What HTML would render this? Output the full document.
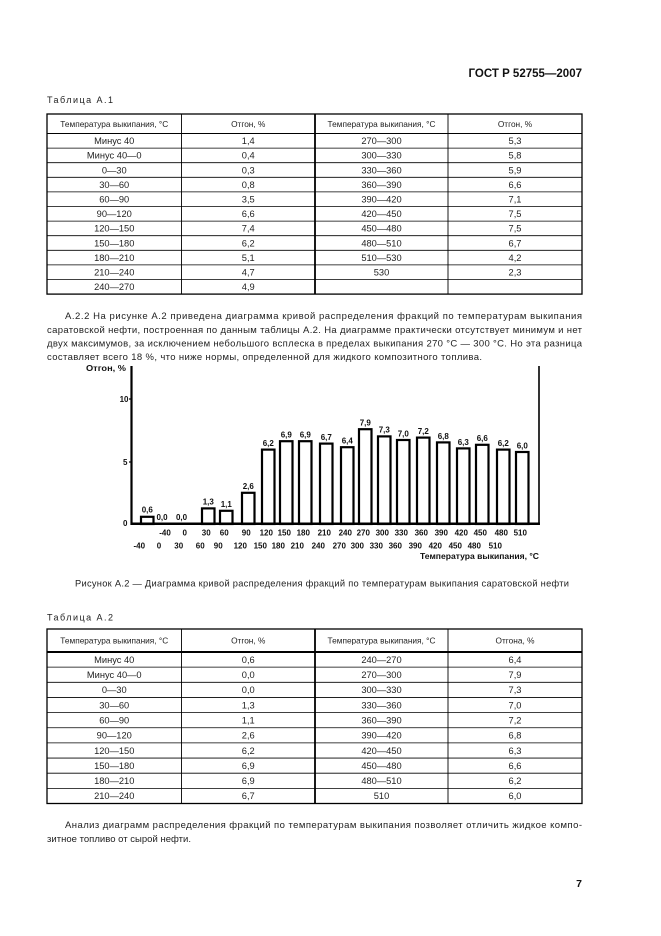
<!DOCTYPE html>
<html><head><meta charset="utf-8"><style>
html,body{margin:0;padding:0;background:#fff;}
svg{display:block;}
</style></head><body>
<svg width="661" height="936" viewBox="0 0 661 936" xmlns="http://www.w3.org/2000/svg" font-family="'Liberation Sans', Arial, sans-serif">
<rect width="661" height="936" fill="#fff"/>
<!-- Header -->
<text x="582" y="77" font-size="11.5" font-weight="bold" text-anchor="end" fill="#111">ГОСТ Р 52755—2007</text>
<text x="47" y="103" font-size="9" fill="#222" textLength="66" lengthAdjust="spacing">Таблица А.1</text>

<!-- Table A.1 -->
<g stroke="#000" fill="none">
<rect x="47" y="114" width="535" height="180.1" stroke-width="1.3"/>
<line x1="47" y1="133.5" x2="582" y2="133.5" stroke-width="1"/>
<g stroke-width="0.8">
<line x1="47" y1="148.1" x2="582" y2="148.1"/><line x1="47" y1="162.7" x2="582" y2="162.7"/>
<line x1="47" y1="177.3" x2="582" y2="177.3"/><line x1="47" y1="191.9" x2="582" y2="191.9"/>
<line x1="47" y1="206.5" x2="582" y2="206.5"/><line x1="47" y1="221.1" x2="582" y2="221.1"/>
<line x1="47" y1="235.7" x2="582" y2="235.7"/><line x1="47" y1="250.3" x2="582" y2="250.3"/>
<line x1="47" y1="264.9" x2="582" y2="264.9"/><line x1="47" y1="279.5" x2="582" y2="279.5"/>
</g>
<line x1="181.5" y1="114" x2="181.5" y2="294.1" stroke-width="0.9"/>
<line x1="315" y1="114" x2="315" y2="294.1" stroke-width="1.8"/>
<line x1="448" y1="114" x2="448" y2="294.1" stroke-width="0.9"/>
</g>
<g font-size="8.3" fill="#222" text-anchor="middle">
<text x="114.25" y="126.8">Температура выкипания, °С</text>
<text x="248.25" y="126.8">Отгон, %</text>
<text x="381.5" y="126.8">Температура выкипания, °С</text>
<text x="515" y="126.8">Отгон, %</text>
</g>
<g font-size="9.3" fill="#222" text-anchor="middle">
<text x="114.25" y="144.1">Минус 40</text><text x="248.25" y="144.1">1,4</text><text x="381.5" y="144.1">270—300</text><text x="515" y="144.1">5,3</text>
<text x="114.25" y="158.7">Минус 40—0</text><text x="248.25" y="158.7">0,4</text><text x="381.5" y="158.7">300—330</text><text x="515" y="158.7">5,8</text>
<text x="114.25" y="173.3">0—30</text><text x="248.25" y="173.3">0,3</text><text x="381.5" y="173.3">330—360</text><text x="515" y="173.3">5,9</text>
<text x="114.25" y="187.9">30—60</text><text x="248.25" y="187.9">0,8</text><text x="381.5" y="187.9">360—390</text><text x="515" y="187.9">6,6</text>
<text x="114.25" y="202.5">60—90</text><text x="248.25" y="202.5">3,5</text><text x="381.5" y="202.5">390—420</text><text x="515" y="202.5">7,1</text>
<text x="114.25" y="217.1">90—120</text><text x="248.25" y="217.1">6,6</text><text x="381.5" y="217.1">420—450</text><text x="515" y="217.1">7,5</text>
<text x="114.25" y="231.7">120—150</text><text x="248.25" y="231.7">7,4</text><text x="381.5" y="231.7">450—480</text><text x="515" y="231.7">7,5</text>
<text x="114.25" y="246.3">150—180</text><text x="248.25" y="246.3">6,2</text><text x="381.5" y="246.3">480—510</text><text x="515" y="246.3">6,7</text>
<text x="114.25" y="260.9">180—210</text><text x="248.25" y="260.9">5,1</text><text x="381.5" y="260.9">510—530</text><text x="515" y="260.9">4,2</text>
<text x="114.25" y="275.5">210—240</text><text x="248.25" y="275.5">4,7</text><text x="381.5" y="275.5">530</text><text x="515" y="275.5">2,3</text>
<text x="114.25" y="290.1">240—270</text><text x="248.25" y="290.1">4,9</text>
</g>

<!-- Paragraph A.2.2 -->
<g font-size="9.5" fill="#222">
<text x="65" y="319" textLength="517" lengthAdjust="spacing">А.2.2  На рисунке А.2 приведена диаграмма кривой распределения фракций по температурам выкипания</text>
<text x="47" y="333" textLength="535" lengthAdjust="spacing">саратовской нефти, построенная по данным таблицы А.2. На диаграмме практически отсутствует минимум и нет</text>
<text x="47" y="346.5" textLength="535" lengthAdjust="spacing">двух максимумов, за исключением небольшого всплеска в пределах выкипания 270 °С — 300 °С. Но эта разница</text>
<text x="47" y="360" textLength="435" lengthAdjust="spacing">составляет всего 18 %, что ниже нормы, определенной для жидкого композитного топлива.</text>
</g>

<!-- Chart -->
<g font-weight="bold" font-size="8" fill="#111">
<text x="86" y="371" textLength="40" lengthAdjust="spacingAndGlyphs">Отгон, %</text>
<text x="128.5" y="402" text-anchor="end">10</text>
<text x="127.5" y="465" text-anchor="end">5</text>
<text x="127.5" y="526" text-anchor="end">0</text>
</g>
<g stroke="#000">
<line x1="131.5" y1="366" x2="131.5" y2="525" stroke-width="2.2"/>
<line x1="539" y1="366" x2="539" y2="525" stroke-width="1.6"/>
<line x1="130.5" y1="523.8" x2="539.8" y2="523.8" stroke-width="2.5"/>
<line x1="129" y1="399" x2="131.5" y2="399" stroke-width="1.2"/>
<line x1="129" y1="462" x2="131.5" y2="462" stroke-width="1.2"/>
</g>
<g stroke="#000" stroke-width="2.2" fill="#fff">
<rect x="141" y="516.8" width="12.5" height="7.2"/>
<rect x="202" y="508.4" width="12.5" height="15.6"/>
<rect x="220" y="510.8" width="12.5" height="13.2"/>
<rect x="242" y="492.8" width="12.5" height="31.2"/>
<rect x="262" y="449.6" width="12.5" height="74.4"/>
<rect x="280" y="441.2" width="12.5" height="82.8"/>
<rect x="299" y="441.2" width="12.5" height="82.8"/>
<rect x="320" y="443.6" width="12.5" height="80.4"/>
<rect x="341" y="447.2" width="12.5" height="76.8"/>
<rect x="359" y="429.2" width="12.5" height="94.8"/>
<rect x="378" y="436.4" width="12.5" height="87.6"/>
<rect x="397" y="440" width="12.5" height="84"/>
<rect x="417" y="437.6" width="12.5" height="86.4"/>
<rect x="437" y="442.4" width="12.5" height="81.6"/>
<rect x="457" y="448.4" width="12.5" height="75.6"/>
<rect x="476" y="444.8" width="12.5" height="79.2"/>
<rect x="497" y="449.6" width="12.5" height="74.4"/>
<rect x="516" y="452" width="12.5" height="72"/>
</g>
<line x1="130.5" y1="523.8" x2="539.8" y2="523.8" stroke="#000" stroke-width="2.5"/>
<g font-weight="bold" font-size="8" fill="#111" text-anchor="middle">
<text x="147.25" y="512.5">0,6</text>
<text x="162" y="520">0,0</text>
<text x="181.5" y="520">0,0</text>
<text x="208.25" y="504.5">1,3</text>
<text x="226.25" y="507">1,1</text>
<text x="248.25" y="489">2,6</text>
<text x="268.25" y="446">6,2</text>
<text x="286.25" y="437.5">6,9</text>
<text x="305.25" y="437.5">6,9</text>
<text x="326.25" y="440">6,7</text>
<text x="347.25" y="443.5">6,4</text>
<text x="365.25" y="425.5">7,9</text>
<text x="384.25" y="432.5">7,3</text>
<text x="403.25" y="436.5">7,0</text>
<text x="423.25" y="434">7,2</text>
<text x="443.25" y="439">6,8</text>
<text x="463.25" y="445">6,3</text>
<text x="482.25" y="441">6,6</text>
<text x="503.25" y="446">6,2</text>
<text x="522.25" y="448.5">6,0</text>
</g>
<g font-weight="bold" font-size="8" fill="#111" text-anchor="middle">
<text x="165" y="535.5">-40</text><text x="184.75" y="535.5">0</text><text x="206.25" y="535.5">30</text><text x="224.25" y="535.5">60</text><text x="246.25" y="535.5">90</text><text x="266.25" y="535.5">120</text><text x="284.25" y="535.5">150</text><text x="303.25" y="535.5">180</text><text x="324.25" y="535.5">210</text><text x="345.25" y="535.5">240</text><text x="363.25" y="535.5">270</text><text x="382.25" y="535.5">300</text><text x="401.25" y="535.5">330</text><text x="421.25" y="535.5">360</text><text x="441.25" y="535.5">390</text><text x="461.25" y="535.5">420</text><text x="480.25" y="535.5">450</text><text x="501.25" y="535.5">480</text><text x="520.25" y="535.5">510</text>
<text x="139.25" y="548.5">-40</text><text x="159" y="548.5">0</text><text x="178.75" y="548.5">30</text><text x="200.25" y="548.5">60</text><text x="218.25" y="548.5">90</text><text x="240.25" y="548.5">120</text><text x="260.25" y="548.5">150</text><text x="278.25" y="548.5">180</text><text x="297.25" y="548.5">210</text><text x="318.25" y="548.5">240</text><text x="339.25" y="548.5">270</text><text x="357.25" y="548.5">300</text><text x="376.25" y="548.5">330</text><text x="395.25" y="548.5">360</text><text x="415.25" y="548.5">390</text><text x="435.25" y="548.5">420</text><text x="455.25" y="548.5">450</text><text x="474.25" y="548.5">480</text><text x="495.25" y="548.5">510</text>
</g>
<text x="420" y="559" font-weight="bold" font-size="8" fill="#111" textLength="119" lengthAdjust="spacingAndGlyphs">Температура выкипания, °С</text>

<!-- Caption -->
<text x="75" y="586.5" font-size="9.3" fill="#222" textLength="494" lengthAdjust="spacing">Рисунок А.2 — Диаграмма кривой распределения фракций по температурам выкипания саратовской нефти</text>

<text x="47" y="620.5" font-size="9" fill="#222" textLength="66" lengthAdjust="spacing">Таблица А.2</text>

<!-- Table A.2 -->
<g stroke="#000" fill="none">
<rect x="47" y="629" width="535" height="174.5" stroke-width="1.3"/>
<line x1="47" y1="652" x2="582" y2="652" stroke-width="2"/>
<g stroke-width="0.8">
<line x1="47" y1="667.15" x2="582" y2="667.15"/><line x1="47" y1="682.3" x2="582" y2="682.3"/>
<line x1="47" y1="697.45" x2="582" y2="697.45"/><line x1="47" y1="712.6" x2="582" y2="712.6"/>
<line x1="47" y1="727.75" x2="582" y2="727.75"/><line x1="47" y1="742.9" x2="582" y2="742.9"/>
<line x1="47" y1="758.05" x2="582" y2="758.05"/><line x1="47" y1="773.2" x2="582" y2="773.2"/>
<line x1="47" y1="788.35" x2="582" y2="788.35"/>
</g>
<line x1="181.5" y1="629" x2="181.5" y2="803.5" stroke-width="0.9"/>
<line x1="315" y1="629" x2="315" y2="803.5" stroke-width="1.8"/>
<line x1="448" y1="629" x2="448" y2="803.5" stroke-width="0.9"/>
</g>
<g font-size="8.3" fill="#222" text-anchor="middle">
<text x="114.25" y="643.5">Температура выкипания, °С</text>
<text x="248.25" y="643.5">Отгон, %</text>
<text x="381.5" y="643.5">Температура выкипания, °С</text>
<text x="515" y="643.5">Отгона, %</text>
</g>
<g font-size="9.3" fill="#222" text-anchor="middle">
<text x="114.25" y="662.9">Минус 40</text><text x="248.25" y="662.9">0,6</text><text x="381.5" y="662.9">240—270</text><text x="515" y="662.9">6,4</text>
<text x="114.25" y="678">Минус 40—0</text><text x="248.25" y="678">0,0</text><text x="381.5" y="678">270—300</text><text x="515" y="678">7,9</text>
<text x="114.25" y="693.2">0—30</text><text x="248.25" y="693.2">0,0</text><text x="381.5" y="693.2">300—330</text><text x="515" y="693.2">7,3</text>
<text x="114.25" y="708.3">30—60</text><text x="248.25" y="708.3">1,3</text><text x="381.5" y="708.3">330—360</text><text x="515" y="708.3">7,0</text>
<text x="114.25" y="723.5">60—90</text><text x="248.25" y="723.5">1,1</text><text x="381.5" y="723.5">360—390</text><text x="515" y="723.5">7,2</text>
<text x="114.25" y="738.6">90—120</text><text x="248.25" y="738.6">2,6</text><text x="381.5" y="738.6">390—420</text><text x="515" y="738.6">6,8</text>
<text x="114.25" y="753.8">120—150</text><text x="248.25" y="753.8">6,2</text><text x="381.5" y="753.8">420—450</text><text x="515" y="753.8">6,3</text>
<text x="114.25" y="768.9">150—180</text><text x="248.25" y="768.9">6,9</text><text x="381.5" y="768.9">450—480</text><text x="515" y="768.9">6,6</text>
<text x="114.25" y="784.1">180—210</text><text x="248.25" y="784.1">6,9</text><text x="381.5" y="784.1">480—510</text><text x="515" y="784.1">6,2</text>
<text x="114.25" y="799.2">210—240</text><text x="248.25" y="799.2">6,7</text><text x="381.5" y="799.2">510</text><text x="515" y="799.2">6,0</text>
</g>

<!-- Closing paragraph -->
<g font-size="9.5" fill="#222">
<text x="65" y="828" textLength="517" lengthAdjust="spacing">Анализ диаграмм распределения фракций по температурам выкипания позволяет отличить жидкое компо-</text>
<text x="47" y="842" textLength="144" lengthAdjust="spacing">зитное топливо от сырой нефти.</text>
</g>

<text x="582" y="887" font-size="10.5" font-weight="bold" text-anchor="end" fill="#111">7</text>
</svg>
</body></html>
